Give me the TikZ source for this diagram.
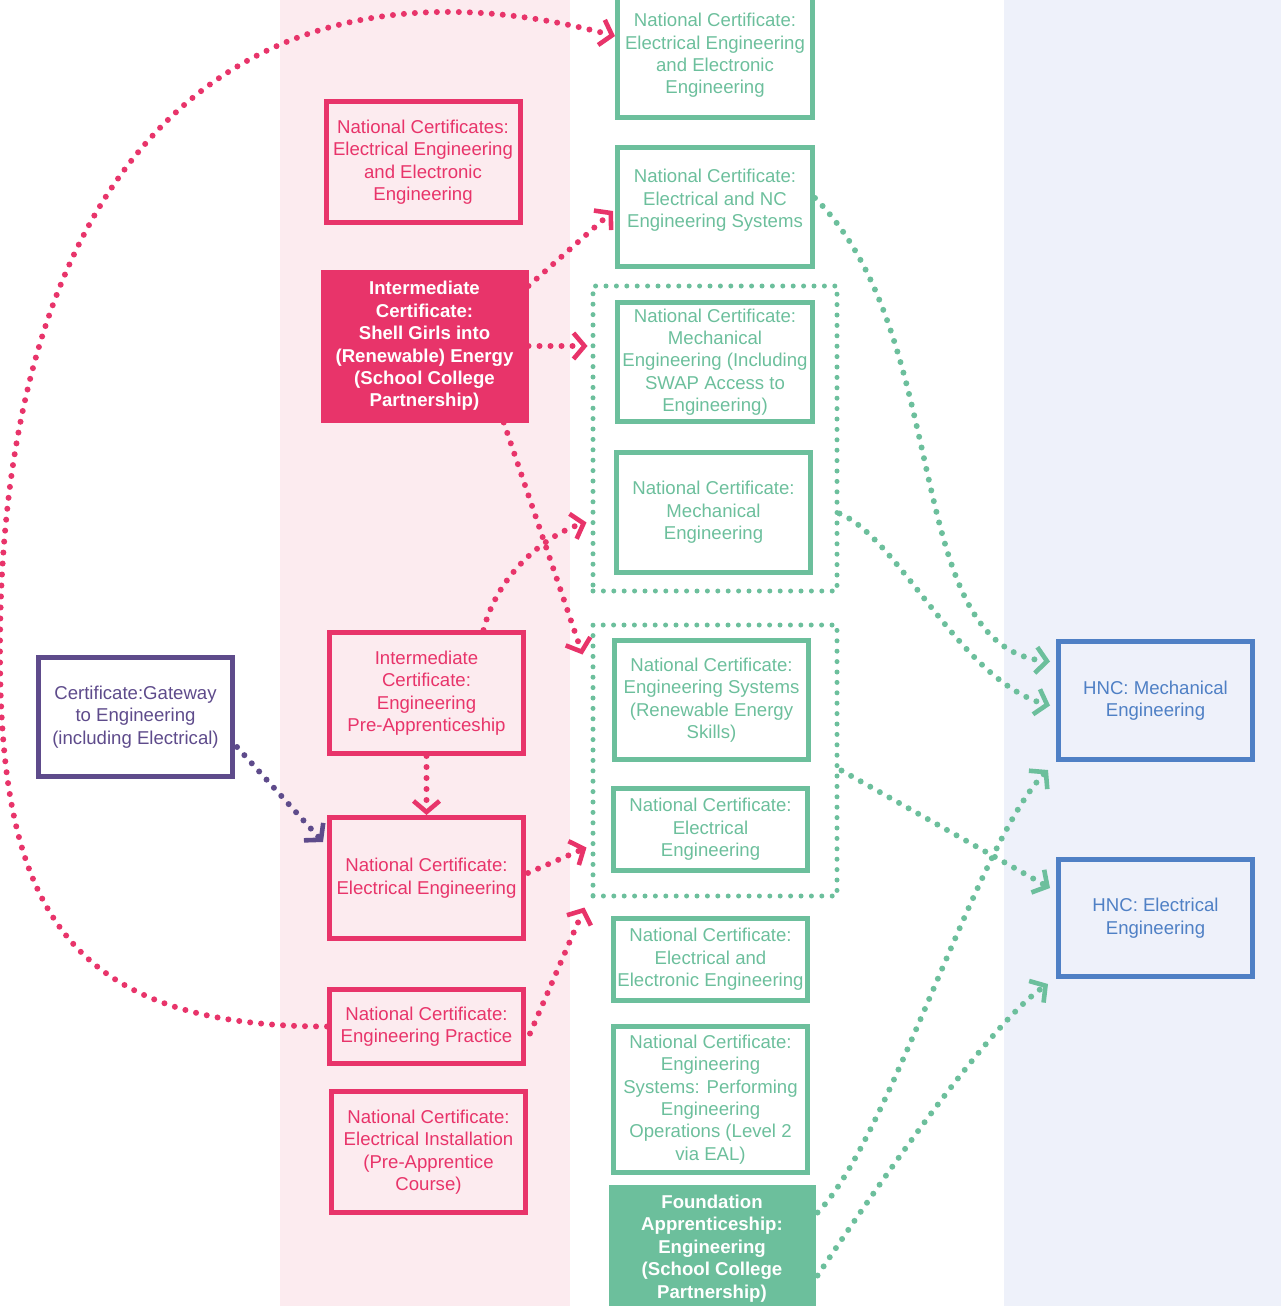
\documentclass[tikz,border=0pt]{standalone}
\usepackage{fontspec}
\setmainfont{Liberation Sans}
\usetikzlibrary{arrows.meta,calc}

\definecolor{ncpink}{HTML}{E8346A}
\definecolor{ncgreen}{HTML}{6CBF9C}
\definecolor{ncpurple}{HTML}{5E4B8B}
\definecolor{ncblue}{HTML}{4F80C5}
\definecolor{bandpink}{HTML}{FCEBEF}
\definecolor{bandblue}{HTML}{EEF1FA}

\tikzset{
  cert/.style={draw, line width=2.5pt, align=center, inner sep=2pt,
    minimum width=97pt, font=\fontsize{9.3}{11.2}\selectfont},
  pinkcert/.style={cert, draw=ncpink, text=ncpink},
  greencert/.style={cert, draw=ncgreen, text=ncgreen},
  bluecert/.style={cert, draw=ncblue, text=ncblue},
  purplecert/.style={cert, draw=ncpurple, text=ncpurple},
  solidcert/.style={cert, draw=#1, fill=#1, text=white,
    font=\fontsize{9.3}{11.2}\selectfont\bfseries},
  grpframe/.style={draw=ncgreen, line width=2.5pt, line cap=round,
    dash pattern=on 0pt off 5.2pt, inner sep=0pt, minimum width=122pt},
  route/.style={line width=3pt, line cap=round, dash pattern=on 0pt off 5.5pt, ->},
  pinkroute/.style={route, draw=ncpink},
  greenroute/.style={route, draw=ncgreen},
  purpleroute/.style={route, draw=ncpurple}
}

\begin{document}
\begin{tikzpicture}[x=0.5pt, y=-0.5pt,
    >={Straight Barb[length=5.5pt,width=13pt,line width=2.3pt]}]
  \useasboundingbox (0,0) rectangle (1281,1306);
  % background columns
  \fill[bandpink] (280,0) rectangle (570,1306);
  \fill[bandblue] (1004,0) rectangle (1281,1306);

  % school / college column
  \node[pinkcert, minimum height=60.5pt] (natCertsEE) at (423,162)
    {National Certificates:\\Electrical Engineering\\and Electronic\\Engineering};
  \node[solidcert=ncpink, minimum width=101.5pt, minimum height=74pt] (shellGirls) at (424.5,346)
    {Intermediate\\Certificate:\\Shell Girls into\\(Renewable) Energy\\(School College\\Partnership)};
  \node[pinkcert, minimum height=60.5pt] (preApp) at (426.5,693)
    {Intermediate\\Certificate:\\Engineering\\Pre-Apprenticeship};
  \node[pinkcert, minimum height=60.5pt] (natElec) at (426.5,878)
    {National Certificate:\\Electrical Engineering};
  \node[pinkcert, minimum height=37pt] (engPractice) at (426.5,1026.5)
    {National Certificate:\\Engineering Practice};
  \node[pinkcert, minimum height=60.5pt] (elecInstall) at (428.5,1152)
    {National Certificate:\\Electrical Installation\\(Pre-Apprentice\\Course)};
  \node[purplecert, minimum height=59.5pt] (gateway) at (135.5,717)
    {Certificate:Gateway\\to Engineering\\(including Electrical)};

  % college column
  \node[greencert, minimum width=97.5pt, minimum height=62pt] (ncEEE) at (715,55.5)
    {National Certificate:\\Electrical Engineering\\and Electronic\\Engineering};
  \node[greencert, minimum width=97.5pt, minimum height=59.5pt] (ncENC) at (715,207)
    {National Certificate:\\Electrical and NC\\Engineering Systems\\[-2.7pt]};
  \node[grpframe, minimum height=152.5pt] (grpA) at (715,438.5) {};
  \node[greencert, minimum width=97.5pt, minimum height=59.5pt] (ncMechSwap) at (715,362)
    {National Certificate:\\Mechanical\\Engineering (Including\\SWAP Access to\\Engineering)};
  \node[greencert, minimum height=60pt] (ncMech) at (713.5,512.5)
    {National Certificate:\\Mechanical\\Engineering};
  \node[grpframe, minimum height=135.5pt] (grpB) at (715,760.5) {};
  \node[greencert, minimum height=59.5pt] (ncRenew) at (711.5,700)
    {National Certificate:\\Engineering Systems\\(Renewable Energy\\Skills)};
  \node[greencert, minimum height=41pt] (ncElec) at (710.5,829.5)
    {National Certificate:\\Electrical\\Engineering};
  \node[greencert, minimum height=41pt] (ncElecElec) at (710.5,959.5)
    {National Certificate:\\Electrical and\\Electronic Engineering};
  \node[greencert, minimum height=73pt] (ncPEO) at (710.5,1099.5)
    {National Certificate:\\Engineering\\Systems: Performing\\Engineering\\Operations (Level 2\\via EAL)};
  \node[solidcert=ncgreen, minimum width=101pt, minimum height=61.5pt] (foundApp) at (712,1248.5)
    {Foundation\\Apprenticeship:\\Engineering\\(School College\\Partnership)};

  % university column
  \node[bluecert, minimum height=59pt] (hncMech) at (1155.5,700.5)
    {HNC: Mechanical\\Engineering};
  \node[bluecert, minimum height=58.5pt] (hncElec) at (1155.5,918)
    {HNC: Electrical\\Engineering};

  % routes
  \coordinate (loopL) at (0,650);
  \draw[pinkroute] (engPractice.west) .. controls +(-267,0) and +(0,250) .. (loopL)
    .. controls +(0,-500) and +(-367,-98) .. (ncEEE.169);
  \draw[pinkroute] (shellGirls.30) -- ($(ncENC.west)+(-2,4)$);
  \draw[pinkroute] (shellGirls.east) -- ($(shellGirls.east -| grpA.west)+(-3,0)$);
  \draw[pinkroute] (shellGirls.-44) -- ($(grpB.north west)+(-8,32)$);
  \draw[pinkroute] ($(preApp.north)+(57,0)$) .. controls +(15,-60) and +(-35,10) .. ($(grpA.west)+(-4,84)$);
  \draw[pinkroute] (preApp.south) -- (natElec.north);
  \draw[purpleroute] ($(gateway.east)+(2,30)$) -- ($(natElec.west)+(-4,-36)$);
  \draw[pinkroute] ($(natElec.east)+(2,-5)$) -- ($(grpB.west)+(-4,87)$);
  \draw[pinkroute] ($(engPractice.east)+(4,7)$) -- ($(grpB.south west)+(-6,9)$);

  \draw[greenroute] ($(ncENC.east)+(0,-9)$) .. controls +(140,140) and +(-150,-15) .. ($(hncMech.west)+(-6,-39)$);
  \draw[greenroute] ($(grpA.east)+(0,75)$) .. controls +(60,25) and +(-90,-25) .. ($(hncMech.west)+(-6,5)$);
  \draw[greenroute] ($(grpB.east)+(2,10)$) -- ($(hncElec.west)+(-6,-30)$);
  \draw[greenroute] ($(foundApp.east)+(2,-36)$) .. controls +(70,-70) and +(-70,70) .. ($(hncMech.south west)+(-8,8)$);
  \draw[greenroute] ($(foundApp.east)+(2,27)$) .. controls +(50,-75) and +(-60,40) .. ($(hncElec.south west)+(-8,5)$);
\end{tikzpicture}
\end{document}
